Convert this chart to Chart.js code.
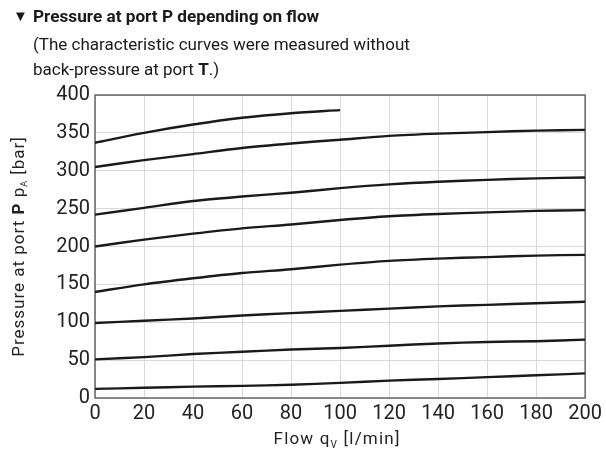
<!DOCTYPE html>
<html><head><meta charset="utf-8">
<script src="https://cdn.jsdelivr.net/npm/chart.js@4"></script>
<style>
html,body{margin:0;padding:0;background:#fff;}
#wrap{position:relative;width:606px;height:454px;overflow:hidden;}
canvas{position:absolute;left:0;top:0;}
.hdr{position:absolute;font-family:Roboto, sans-serif;color:#1a1a1a;white-space:nowrap;line-height:1;}
</style></head><body>
<div id="wrap">
<canvas id="c" width="606" height="454"></canvas>
<div class="hdr" style="left:13px;top:9px;font-size:15px">▼</div>
<div class="hdr" style="left:33px;top:8px;font-size:17.2px;font-weight:bold">Pressure at port P depending on flow</div>
<div class="hdr" style="left:33px;top:36px;font-size:17px">(The characteristic curves were measured without</div>
<div class="hdr" style="left:33px;top:61px;font-size:17px">back-pressure at port <b>T</b>.)</div>
</div>
<script>
// Data
const flow = [0, 20, 40, 60, 80, 100, 120, 140, 160, 180, 200];
const xTicks = [0, 20, 40, 60, 80, 100, 120, 140, 160, 180, 200];
const yTicks = [0, 50, 100, 150, 200, 250, 300, 350, 400];
const curve1 = [337, 350, 361, 370, 376, 380];
const curve2 = [305, 314, 322, 330, 336, 341, 346, 349, 351, 353, 354];
const curve3 = [242, 251, 260, 266, 271, 277, 282, 285.5, 288, 290, 291];
const curve4 = [200, 209, 217, 224, 229, 235, 240, 243, 245, 247, 248];
const curve5 = [140, 150, 158, 165, 170, 176, 181, 184, 186, 188, 189];
const curve6 = [99, 102, 105, 109, 112, 115, 118, 121, 123, 125, 127];
const curve7 = [51, 54, 58, 61, 64, 66, 69, 72, 74, 75, 77];
const curve8 = [12, 13.5, 15, 16, 17.5, 20, 23, 25, 27.5, 30, 32.5];

const curves = [curve1, curve2, curve3, curve4, curve5, curve6, curve7, curve8];
const FONT = 'Roboto, sans-serif';
const TXT = '#222';

function pts(arr){ return arr.map((v,i)=>({x:flow[i], y:v})); }

function drawRuns(ctx, runs, cx, cy, spacing){
  ctx.letterSpacing = spacing + 'px';
  let total = 0;
  runs.forEach(r=>{ ctx.font = r.font; r.w = ctx.measureText(r.t).width; total += r.w; });
  let x = cx - total/2;
  ctx.textBaseline = 'middle';
  ctx.textAlign = 'left';
  runs.forEach(r=>{ ctx.font = r.font; ctx.fillText(r.t, x, cy + (r.dy||0)); x += r.w; });
  ctx.letterSpacing = '0px';
}

const framePlugin = {
  id: 'frame',
  beforeDatasetsDraw(chart){
    const {ctx, chartArea:a} = chart;
    ctx.save();
    ctx.strokeStyle = '#666';
    ctx.lineWidth = 1.5;
    ctx.strokeRect(a.left, a.top, a.right - a.left, a.bottom - a.top);
    ctx.restore();
  },
  afterDraw(chart){
    const {ctx, chartArea:a} = chart;
    ctx.save();
    ctx.fillStyle = TXT;
    // x title
    drawRuns(ctx, [
      {t:'Flow q', font:'17px '+FONT},
      {t:'V', font:'10px '+FONT, dy:5},
      {t:' [l/min]', font:'17px '+FONT}
    ], (a.left + a.right)/2 - 3, 440, 1.2);
    // y title
    ctx.translate(20, (a.top + a.bottom)/2);
    ctx.rotate(-Math.PI/2);
    drawRuns(ctx, [
      {t:'Pressure at port ', font:'17px '+FONT},
      {t:'P', font:'bold 17px '+FONT},
      {t:' p', font:'17px '+FONT},
      {t:'A', font:'9px '+FONT, dy:5},
      {t:' [bar]', font:'17px '+FONT}
    ], 0, 0, 1);
    ctx.restore();
  }
};

new Chart(document.getElementById('c'), {
  type: 'line',
  data: {
    datasets: curves.map((c,i)=>({
      label: 'Curve ' + (i+1),
      data: pts(c),
      borderColor: '#1a1a1a',
      borderWidth: 2.4,
      pointRadius: 0,
      fill: false,
      tension: 0.3
    }))
  },
  options: {
    responsive: false,
    animation: false,
    layout: { padding: { top: 95, right: 17.5, left: 0, bottom: 0 } },
    plugins: { legend: { display: false }, tooltip: { enabled: false } },
    scales: {
      x: {
        type: 'linear', min: 0, max: 200,
        afterBuildTicks: s => { s.ticks = xTicks.map(v=>({value:v})); },
        afterFit: s => { s.height = 56; },
        grid: { color: '#d9d9d9', lineWidth: 1, drawTicks: false },
        border: { display: false },
        ticks: { color: TXT, font: { family: FONT, size: 20 }, padding: 4, maxRotation: 0 }
      },
      y: {
        type: 'linear', min: 0, max: 400,
        afterBuildTicks: s => { s.ticks = yTicks.map(v=>({value:v})); },
        afterFit: s => { s.width = 95; },
        grid: { color: '#d9d9d9', lineWidth: 1, drawTicks: false },
        border: { display: false },
        ticks: { color: TXT, font: { family: FONT, size: 20 }, padding: 5 }
      }
    }
  },
  plugins: [framePlugin]
});
</script>
</body></html>
